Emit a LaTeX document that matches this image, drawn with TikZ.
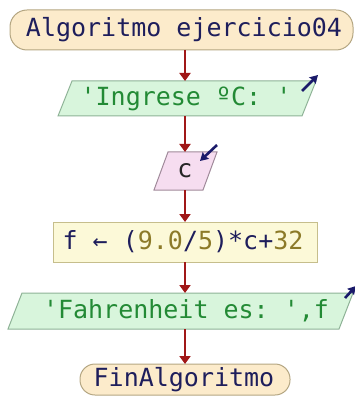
\documentclass[tikz,border=0pt]{standalone}
\usepackage{fontspec}
\setmonofont{DejaVu Sans Mono}
\usetikzlibrary{arrows.meta}
\definecolor{termfill}{HTML}{FCEBCB}
\definecolor{termdraw}{HTML}{B4A682}
\definecolor{navy}{HTML}{1E1E5C}
\definecolor{infill}{HTML}{D8F5DC}
\definecolor{indraw}{HTML}{8EB296}
\definecolor{ingreen}{HTML}{238A35}
\definecolor{cfill}{HTML}{F6DDF0}
\definecolor{cdraw}{HTML}{A08A9A}
\definecolor{procfill}{HTML}{FCF9D8}
\definecolor{procdraw}{HTML}{C6BE8C}
\definecolor{numcol}{HTML}{8C7A28}
\definecolor{arrowred}{HTML}{A01818}
\definecolor{iconblue}{HTML}{1A1A6A}
\begin{document}
\begin{tikzpicture}[x=1pt,y=-1pt,
  txt/.style={font=\ttfamily\fontsize{25}{28}\selectfont, inner sep=0pt, anchor=center},
  flow/.style={draw=arrowred, line width=2pt, -{Triangle[length=8pt,width=11pt]}},
  icon/.style={draw=iconblue, line width=2.6pt, -{Stealth[length=8pt,width=9pt,inset=1pt]}},
  shp/.style={line width=1pt}]
\useasboundingbox (0,0) rectangle (354,403);
% top terminator
\draw[shp, fill=termfill, draw=termdraw, rounded corners=17pt] (10,10) rectangle (353,50);
\node[txt, text=navy] (start) at (184,30) {Algoritmo ejercicio04};
% input 1
\draw[shp, fill=infill, draw=indraw] (72,81) -- (316,81) -- (302,116) -- (58,116) -- cycle;
\node[txt, text=ingreen] (in1) at (186,99) {'Ingrese ºC: '};
% read c
\draw[shp, fill=cfill, draw=cdraw] (168,152) -- (217,152) -- (203,190) -- (154,190) -- cycle;
\node[txt, text=black!85] (rc) at (185,171) {c};
% process
\draw[shp, fill=procfill, draw=procdraw] (53,222) rectangle (317,262);
\node[txt, text=navy] (proc) at (183,242) {f ← (\textcolor{numcol}{9.0}/\textcolor{numcol}{5})*c+\textcolor{numcol}{32}};
% output
\draw[shp, fill=infill, draw=indraw] (22,293) -- (353,293) -- (339,329) -- (8,329) -- cycle;
\node[txt, text=ingreen] (out) at (186,311) {'Fahrenheit es: ',f};
% end terminator
\draw[shp, fill=termfill, draw=termdraw, rounded corners=15pt] (80,364) rectangle (290,395);
\node[txt, text=navy] (fin) at (184,380) {FinAlgoritmo};
% connector points
\coordinate (a1) at (185,50); \coordinate (b1) at (185,81);
\coordinate (a2) at (185,116); \coordinate (b2) at (185,152);
\coordinate (a3) at (185,190); \coordinate (b3) at (185,222);
\coordinate (a4) at (185,262); \coordinate (b4) at (185,293);
\coordinate (a5) at (185,329); \coordinate (b5) at (185,364);
\draw[flow] (a1) -- (b1);
\draw[flow] (a2) -- (b2);
\draw[flow] (a3) -- (b3);
\draw[flow] (a4) -- (b4);
\draw[flow] (a5) -- (b5);
% io icons
\coordinate (i1t) at (302,91); \coordinate (i1h) at (318,75);
\coordinate (i2t) at (217,145); \coordinate (i2h) at (200,161);
\coordinate (i3t) at (345,298); \coordinate (i3h) at (356,286);
\draw[icon] (i1t) -- (i1h);
\draw[icon] (i2t) -- (i2h);
\draw[icon] (i3t) -- (i3h);
\end{tikzpicture}
\end{document}
